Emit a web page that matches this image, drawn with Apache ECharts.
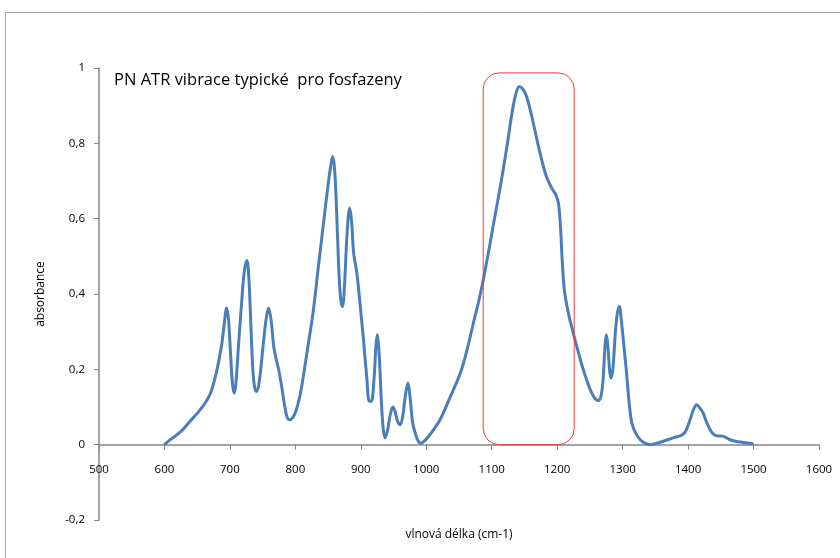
<!DOCTYPE html>
<html>
<head>
<meta charset="utf-8">
<script src="https://cdn.jsdelivr.net/npm/echarts@6/dist/echarts.min.js"></script>
<style>
html,body{margin:0;padding:0;background:#fff;}
#chart{width:840px;height:558px;}
</style>
</head>
<body>
<div id="chart"></div>
<script>
var wavenumbers = [600,608,616,628,639,650,662,670,677,683,688,691,695,698,701,704,706.5,709,713,718,722,726,729,732,735,738,741,745,750,755,759,763,767,771,775,779,783,787,791,796,801,807,812,820,827,835,843,850,854,857,860,863,866,869,872,875,879,883,886,889,894,899,904,909,913,916,920,923,925,928,931,934,937,941,945,949,952,956,960,964,968,972,975,979,983,987,991,996,1005,1021,1035,1052,1062,1072,1080,1087,1095,1102,1110,1118,1124,1130,1136,1142,1147,1152,1158,1164,1171,1178,1184,1192,1198,1202,1205,1208,1211,1217,1224,1230,1238,1245,1252,1258,1263,1267,1270,1273,1275,1277,1280,1282,1285,1289,1292,1295,1298,1302,1306,1310,1314,1320,1327,1334,1342,1352,1362,1377,1390,1396,1403,1408,1413,1418,1423,1427,1431,1436,1441,1447,1454,1462,1472,1484,1493,1500];
var absorbance = [0,0.012,0.022,0.04,0.062,0.083,0.11,0.135,0.175,0.222,0.272,0.315,0.363,0.33,0.24,0.16,0.137,0.16,0.26,0.38,0.46,0.489,0.44,0.32,0.2,0.15,0.141,0.17,0.25,0.33,0.363,0.33,0.26,0.225,0.195,0.155,0.11,0.075,0.066,0.072,0.09,0.13,0.18,0.27,0.35,0.47,0.588,0.69,0.74,0.765,0.73,0.62,0.48,0.39,0.367,0.42,0.56,0.628,0.59,0.51,0.455,0.37,0.28,0.18,0.115,0.115,0.17,0.26,0.292,0.24,0.13,0.045,0.018,0.04,0.08,0.1,0.09,0.063,0.053,0.075,0.13,0.164,0.13,0.06,0.031,0.012,0.004,0.008,0.025,0.066,0.12,0.19,0.25,0.323,0.38,0.437,0.51,0.579,0.655,0.735,0.8,0.87,0.925,0.95,0.945,0.93,0.895,0.85,0.795,0.745,0.71,0.68,0.663,0.64,0.58,0.48,0.41,0.35,0.3,0.26,0.21,0.172,0.14,0.122,0.117,0.13,0.17,0.26,0.292,0.27,0.2,0.177,0.2,0.3,0.35,0.367,0.33,0.26,0.19,0.11,0.058,0.03,0.013,0.004,0,0.004,0.009,0.018,0.025,0.035,0.066,0.092,0.106,0.097,0.084,0.065,0.049,0.033,0.025,0.023,0.022,0.015,0.009,0.006,0.004,0.002];
var chartTitle = 'PN ATR vibrace typické  pro fosfazeny';
var xAxisName = 'vlnová délka (cm-1)';
var yAxisName = 'absorbance';
// highlighted band: [x from, x to, y bottom, y top]
var highlightBand = [1087, 1226, 0, 0.987];

var points = wavenumbers.map(function (x, i) { return [x, absorbance[i]]; });
var FONT = 'Open Sans';
var axisGray = '#868686';

var chart = echarts.init(document.getElementById('chart'));
chart.setOption({
  animation: false,
  grid: { left: 99, right: 21, top: 68, bottom: 38, containLabel: false, outerBoundsMode: 'none' },
  xAxis: {
    type: 'value', min: 500, max: 1600, interval: 100,
    name: xAxisName, nameLocation: 'middle', nameGap: 84,
    nameTextStyle: { fontFamily: FONT, fontSize: 12, color: '#000' },
    axisLine: { onZero: false, lineStyle: { color: axisGray, width: 1.5 } },
    axisTick: { show: true, length: 5, lineStyle: { color: axisGray } },
    axisLabel: { margin: 19, fontFamily: FONT, fontSize: 11.5, color: '#000',
      formatter: function (v) { return String(v); } },
    splitLine: { show: false }
  },
  yAxis: {
    type: 'value', min: -0.2, max: 1, interval: 0.2,
    name: yAxisName, nameLocation: 'middle', nameGap: 52,
    nameTextStyle: { fontFamily: FONT, fontSize: 12, color: '#000' },
    axisLine: { show: true, onZero: false, lineStyle: { color: axisGray, width: 1.5 } },
    axisTick: { show: true, length: 5, lineStyle: { color: axisGray } },
    axisLabel: {
      margin: 14, fontFamily: FONT, fontSize: 11.5, color: '#000',
      formatter: function (v) { return (Math.round(v * 10) / 10).toString().replace('.', ','); }
    },
    splitLine: { show: false }
  },
  series: [{
    type: 'line', data: points, smooth: 0.35, showSymbol: false,
    lineStyle: { color: '#4a7ebb', width: 3 }
  }],
  graphic: [
    { id: 'frame', type: 'rect', silent: true, shape: { x: 5.5, y: 12.5, width: 900, height: 700 },
      style: { fill: 'none', stroke: '#a6a6a6', lineWidth: 1 } },
    { id: 'title', type: 'text', left: 114, top: 72,
      style: { text: chartTitle, fontFamily: FONT, fontSize: 16.5, fill: '#000' } }
  ]
});

// place the x axis on y = 0 (labels follow the axis line)
var zeroPx = chart.convertToPixel({ gridIndex: 0 }, [500, 0])[1];
var bottomPx = chart.convertToPixel({ gridIndex: 0 }, [500, -0.2])[1];
var p1 = chart.convertToPixel({ gridIndex: 0 }, [highlightBand[0], highlightBand[3]]);
var p2 = chart.convertToPixel({ gridIndex: 0 }, [highlightBand[1], highlightBand[2]]);
chart.setOption({
  xAxis: { offset: zeroPx - bottomPx },
  graphic: [
    { id: 'band', type: 'rect', silent: true, z: 10,
      shape: { x: p1[0], y: p1[1], width: p2[0] - p1[0], height: p2[1] - p1[1], r: 16 },
      style: { fill: 'none', stroke: '#f03c3c', lineWidth: 1 } }
  ]
});
</script>
</body>
</html>
